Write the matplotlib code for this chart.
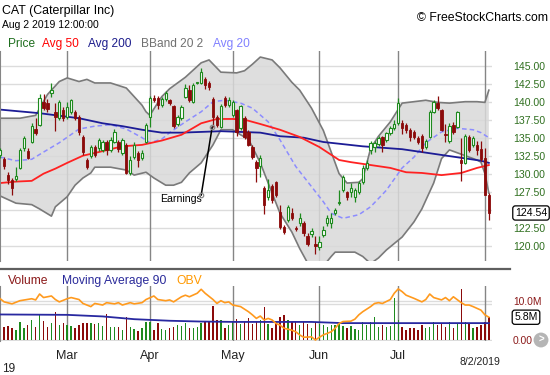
import numpy as np
import matplotlib
matplotlib.use("Agg")
import matplotlib.pyplot as plt
from matplotlib.lines import Line2D
from matplotlib.transforms import blended_transform_factory

plt.rcParams['font.family'] = ['Liberation Sans', 'DejaVu Sans']

# ---- daily candles (trading day index 0 = Feb 5 2019 ... 124 = Aug 2 2019) ----
opens = [132.6, 132.0, 129.8, 129.1, 129.3, 130.8, 133.6, 133.2, 134.4, 136.2,
         136.8, 140.0, 139.8, 141.2, 138.6, 137.8, 138.8, 137.9, 138.6, 138.6,
         137.9, 135.1, 131.9, 132.4, 133.7, 133.6, 133.3, 134.4, 133.3, 134.4,
         134.4, 132.9, 134.0, 130.1, 132.3, 132.9, 132.2, 134.4, 137.9, 140.5,
         140.5, 139.5, 140.4, 140.2, 139.4, 136.9, 137.7, 140.7, 141.6, 140.0,
         142.6, 142.6, 143.1, 142.6, 140.4, 137.9, 136.5, 140.5, 139.5, 138.2,
         138.8, 136.3, 137.7, 135.8, 133.7, 131.6, 131.0, 128.0, 126.7, 128.3,
         128.8, 124.7, 122.6, 123.6, 124.5, 122.5, 123.1, 123.1, 121.4, 121.6,
         120.2, 119.8, 121.5, 123.1, 123.1, 124.5, 125.9, 127.7, 127.4, 127.4,
         126.7, 127.4, 128.8, 130.8, 133.3, 133.7, 134.1, 135.1, 134.7, 135.6,
         136.3, 137.0, 137.0, 136.8, 136.1, 135.8, 135.0, 135.2, 133.7, 135.1,
         138.6, 139.8, 138.8, 135.5, 134.5, 136.8, 136.5, 131.9, 131.5, 135.1,
         134.0, 134.0, 133.4, 132.2, 127.0]
closes = [133.3, 131.0, 129.1, 128.0, 129.7, 133.3, 135.0, 132.2, 136.6, 135.6,
          140.5, 139.1, 139.0, 141.6, 137.9, 140.0, 137.7, 139.3, 140.2, 137.7,
          135.8, 133.0, 130.9, 133.7, 132.6, 134.7, 134.4, 133.3, 134.7, 135.8,
          133.4, 134.7, 130.1, 131.9, 134.0, 131.9, 132.9, 136.8, 140.5, 140.2,
          139.5, 140.4, 141.2, 139.8, 136.6, 137.9, 139.3, 141.9, 140.2, 142.3,
          142.7, 144.1, 142.3, 142.0, 137.9, 136.8, 139.4, 139.5, 140.2, 140.0,
          135.8, 139.4, 135.1, 134.0, 132.3, 130.8, 132.2, 125.6, 127.7, 126.3,
          127.0, 122.6, 121.9, 125.4, 123.8, 122.3, 123.8, 121.7, 120.3, 122.0,
          120.0, 120.5, 122.2, 123.8, 123.8, 124.9, 126.0, 129.5, 126.7, 128.0,
          127.7, 128.7, 130.8, 131.5, 134.2, 134.2, 135.0, 134.0, 135.6, 136.3,
          136.9, 139.8, 136.3, 136.1, 135.1, 135.1, 134.4, 133.6, 134.5, 138.6,
          140.0, 139.1, 136.1, 135.4, 136.6, 135.8, 138.5, 131.5, 135.2, 133.3,
          135.0, 133.3, 132.0, 127.0, 124.54]
highs = [133.6, 132.3, 130.3, 129.4, 130.9, 133.5, 135.3, 133.6, 137.0, 137.8,
         141.0, 141.0, 140.4, 142.6, 139.8, 140.2, 139.2, 140.0, 140.4, 138.9,
         138.2, 135.4, 132.2, 134.0, 134.0, 134.9, 134.7, 134.7, 135.1, 136.2,
         134.7, 135.0, 134.3, 132.5, 134.4, 133.2, 133.3, 137.0, 140.8, 140.9,
         140.8, 140.7, 141.5, 140.4, 139.6, 138.2, 139.6, 142.4, 142.3, 142.6,
         142.8, 144.7, 143.4, 142.9, 140.7, 138.2, 139.7, 140.8, 140.6, 140.2,
         139.0, 139.6, 138.0, 136.0, 134.0, 131.9, 132.6, 128.3, 129.3, 128.6,
         129.0, 125.6, 122.9, 125.7, 125.3, 122.8, 124.6, 123.4, 121.8, 122.4,
         121.4, 121.4, 122.8, 124.2, 124.5, 125.2, 127.8, 129.8, 127.6, 128.7,
         128.0, 129.0, 131.2, 131.9, 134.5, 134.5, 135.3, 135.3, 135.8, 136.6,
         137.4, 140.5, 137.5, 137.0, 136.4, 136.1, 135.3, 135.5, 134.8, 138.9,
         140.2, 140.8, 139.0, 136.9, 137.1, 137.2, 138.7, 135.0, 135.5, 135.4,
         135.3, 134.6, 134.5, 133.6, 127.3]
lows = [132.2, 130.6, 128.6, 127.0, 129.0, 130.6, 133.2, 132.0, 134.2, 135.4,
        136.6, 138.8, 138.6, 140.6, 135.9, 137.5, 137.3, 137.6, 138.3, 137.4,
        135.4, 132.6, 130.6, 132.2, 132.3, 133.2, 133.0, 132.6, 133.0, 134.2,
        133.0, 132.6, 129.9, 129.8, 132.0, 130.9, 131.9, 134.2, 136.5, 139.9,
        139.0, 139.2, 140.1, 139.5, 136.4, 136.6, 137.5, 140.5, 140.0, 139.8,
        142.5, 142.4, 141.8, 141.6, 136.5, 136.5, 136.3, 139.2, 139.2, 137.9,
        135.2, 136.0, 134.8, 133.8, 132.0, 128.8, 129.6, 124.4, 126.4, 125.9,
        126.7, 122.3, 121.6, 123.3, 123.5, 122.0, 122.8, 121.4, 120.0, 121.2,
        118.8, 119.4, 121.2, 122.8, 122.4, 124.2, 125.7, 127.4, 126.4, 126.7,
        126.0, 127.2, 128.6, 130.5, 132.8, 133.0, 133.8, 133.0, 134.4, 135.4,
        136.0, 136.8, 135.5, 135.6, 134.6, 134.8, 134.1, 133.0, 133.4, 134.9,
        138.4, 138.8, 135.9, 134.4, 134.3, 135.5, 136.3, 129.0, 131.3, 133.0,
        133.7, 132.6, 131.8, 127.0, 123.6]

volume_m = [3.4, 3.4, 3.6, 3.0, 2.5, 4.7, 3.0, 3.8, 5.1, 3.4,
            6.4, 4.8, 3.4, 4.4, 7.0, 3.8, 4.4, 3.8, 3.6, 3.0,
            3.8, 4.4, 4.4, 4.4, 4.1, 4.4, 3.6, 6.6, 3.4, 3.4,
            3.2, 2.5, 5.8, 3.4, 2.7, 2.4, 3.0, 4.7, 4.7, 2.5,
            4.4, 2.7, 2.5, 3.0, 3.4, 3.8, 3.6, 4.4, 3.0, 3.0,
            3.4, 4.4, 4.7, 4.9, 8.6, 5.1, 5.1, 3.0, 3.8, 4.7,
            5.3, 4.2, 4.7, 5.5, 4.2, 4.7, 5.1, 8.3, 4.2, 3.0,
            4.7, 5.8, 6.4, 5.1, 4.7, 4.7, 3.8, 4.7, 4.2, 3.0,
            4.7, 4.2, 3.8, 3.4, 3.8, 3.8, 4.4, 3.6, 3.0, 3.6,
            2.7, 2.5, 4.7, 3.8, 4.7, 5.8, 3.4, 3.8, 3.4, 3.6,
            10.6, 5.1, 3.4, 2.5, 3.0, 3.0, 2.5, 3.8, 3.0, 3.4,
            4.7, 3.8, 4.2, 3.4, 4.7, 3.0, 4.2, 13.0, 4.7, 4.2,
            3.0, 3.4, 3.8, 4.7, 5.8]

# ---- indicator lines at sample days ----
avg50_days = [0, 4, 8, 11, 14, 17, 21, 25, 31, 36, 41, 46, 51, 55, 59, 62, 66, 71, 76, 81,
              86, 89, 94, 99, 103, 107, 112, 117, 121, 124]
avg50_vals = [128.7, 128.9, 129.0, 130.0, 130.7, 131.5, 132.5, 133.0, 133.8, 134.0,
              134.6, 135.4, 137.0, 137.6, 137.6, 137.5, 136.9, 136.1, 135.1, 133.7,
              131.9, 131.6, 131.2, 130.8, 130.2, 130.1, 129.8, 130.1, 130.8, 131.2]
avg200_days = [0, 10, 20, 26, 31, 36, 41, 46, 51, 56, 61, 66, 71, 77, 82, 87, 92, 97,
               102, 107, 112, 117, 122, 124]
avg200_vals = [138.9, 138.4, 137.7, 137.0, 136.6, 136.1, 135.7, 135.7, 135.8, 135.9,
               135.8, 135.7, 135.2, 135.0, 134.4, 134.1, 133.8, 133.6, 133.4, 133.0,
               132.6, 132.2, 131.8, 131.5]
avg20_days = [0, 4, 8, 11, 15, 20, 24, 28, 32, 36, 38, 41, 43, 47, 51, 54, 57, 61, 64, 68,
              71, 75, 79, 82, 84, 87, 91, 94, 98, 102, 105, 108, 112, 116, 120, 122, 124]
avg20_vals = [132.3, 131.8, 132.0, 133.0, 134.3, 136.2, 136.6, 136.8, 136.2, 135.0,
              134.3, 134.8, 135.7, 137.2, 138.6, 140.0, 140.2, 139.8, 139.1, 137.2,
              134.7, 131.0, 128.2, 126.1, 124.5, 123.8, 124.3, 125.4, 127.7, 130.8,
              132.3, 134.3, 135.8, 136.3, 136.1, 135.7, 135.0]
bb_up_days = [0, 5, 9, 12, 13, 15, 17, 20, 22, 24, 28, 32, 36, 37, 38, 39, 41, 43, 47, 51,
              53, 56, 60, 62, 64, 66, 69, 71, 74, 76, 79, 82, 84, 86, 88, 91, 92, 94, 96, 99,
              102, 105, 108, 111, 114, 118, 121, 123, 124]
bb_up_vals = [137.7, 137.7, 138.1, 141.0, 141.6, 142.8, 143.3, 142.8, 143.1, 142.6,
              142.6, 141.9, 139.5, 138.6, 138.1, 139.0, 140.7, 141.8, 143.4, 145.4,
              145.8, 144.1, 144.0, 144.3, 145.2, 146.2, 145.8, 144.7, 142.7, 141.6,
              139.1, 136.0, 133.0, 130.0, 128.7, 128.8, 129.3, 133.5, 135.2, 137.2,
              139.8, 140.0, 140.2, 139.9, 139.8, 140.0, 140.0, 139.9, 141.6]
bb_lo_days = [0, 4, 8, 10, 13, 14, 17, 19, 21, 23, 24, 28, 32, 34, 37, 39, 42, 44, 46, 48,
              51, 54, 56, 59, 61, 63, 66, 69, 71, 74, 76, 78, 81, 84, 85, 90, 92, 94, 96, 98,
              102, 105, 107, 110, 112, 114, 116, 119, 121, 122, 123, 124]
bb_lo_vals = [126.9, 125.9, 125.7, 125.1, 124.1, 125.4, 126.8, 128.4, 129.4, 130.1,
              130.9, 130.9, 130.5, 129.8, 130.2, 129.4, 128.4, 128.4, 128.8, 130.1,
              131.5, 134.0, 136.1, 136.1, 135.4, 134.8, 131.5, 127.3, 124.5, 121.9,
              119.6, 117.6, 116.5, 118.5, 119.1, 119.1, 118.5, 117.5, 118.3, 119.4,
              121.2, 123.3, 125.1, 128.7, 132.1, 133.3, 132.9, 132.3, 131.9, 131.6,
              130.0, 127.3]
volma_days = [0, 17, 26, 34, 43, 51, 60, 70, 79, 87, 124]
volma_vals = [6.5, 6.4, 6.0, 5.3, 4.9, 4.7, 4.6, 4.6, 4.6, 4.3, 4.3]
obv_days = [0, 1, 3, 5, 8, 9, 10, 11, 13, 14, 15, 17, 18, 20, 21, 23, 24, 26, 27, 29,
            30, 31, 33, 34, 36, 37, 39, 40, 42, 43, 44, 46, 47, 48, 50, 51, 52, 54, 55, 56,
            57, 58, 59, 61, 63, 64, 65, 66, 67, 68, 69, 70, 71, 72, 74, 75, 76, 77, 79, 80,
            81, 82, 84, 85, 86, 87, 89, 90, 91, 92, 94, 95, 96, 97, 99, 100, 101, 102, 103, 105,
            107, 108, 109, 110, 112, 113, 114, 115, 117, 118, 119, 120, 122, 123, 124]
obv_vals = [10.5, 9.7, 9.2, 10.0, 10.5, 10.2, 11.7, 10.8, 11.2, 10.3, 9.7, 10.5, 10.8, 10.3,
            9.3, 8.5, 9.3, 8.9, 9.5, 9.2, 9.5, 8.9, 9.5, 9.2, 9.5, 10.3, 11.2, 10.3, 10.0,
            10.2, 9.7, 11.0, 11.4, 11.0, 11.9, 12.9, 11.9, 10.3, 9.3, 10.0, 9.5, 9.7, 8.9,
            8.5, 7.2, 6.4, 5.5, 6.1, 5.1, 5.5, 5.1, 4.2, 3.8, 3.0, 2.5, 2.1, 1.3, 0.7, 0.8,
            0.0, 0.7, 1.3, 2.1, 3.0, 4.2, 4.7, 4.8, 5.3, 6.4, 7.2, 8.5, 9.3, 9.5, 9.3, 10.3,
            11.9, 13.0, 12.3, 11.4, 10.6, 9.7, 10.3, 11.7, 10.8, 10.2, 10.8, 10.0, 11.0, 9.5,
            8.9, 8.9, 8.5, 7.6, 6.4, 5.8]

month_names = ["Mar", "Apr", "May", "Jun", "Jul"]
month_days = [17, 38, 59, 81, 101]
last_line_day = 123
earn_day, earn_price = 53.8, 136.5
price_ticks = [120.0, 122.5, 125.0, 127.5, 130.0, 132.5, 135.0, 137.5, 140.0, 142.5, 145.0]

GREEN = "#1e8a1e"
RED = "#8b0a0a"
GRID = "#dcdcdc"
VLINE = "#858585"
W, H = 550, 375


def fx(px):
    return px / W


def fy(py):
    return 1 - py / H


days = np.arange(len(closes))
o = np.array(opens); c = np.array(closes)
hi = np.array(highs); lo = np.array(lows)
up = c >= o
cols = np.where(up, GREEN, RED)

fig = plt.figure(figsize=(5.5, 3.75), dpi=100)

# ---------------- price panel ----------------
ax = fig.add_axes([fx(0), fy(261), fx(492), (261 - 51) / H])
ax.set_xlim(-0.05, 124.8)
ax.set_ylim(117.87, 147.04)
for s in ["top", "right", "bottom"]:
    ax.spines[s].set_visible(False)
ax.spines["left"].set_color(VLINE)
ax.set_xticks([])
ax.yaxis.tick_right()
ax.set_yticks(price_ticks)
# the 125.00 label sits under the last-price box, so leave it blank
ax.set_yticklabels(["" if abs(t - closes[-1]) < 1.5 else f"{t:.2f}" for t in price_ticks])
ax.tick_params(axis="y", length=0, pad=15, labelsize=7.6, labelcolor="#2f6f1f")
ax.grid(axis="y", color=GRID, lw=1)
ax.set_axisbelow(True)

for d in month_days + [last_line_day]:
    ax.axvline(d, color=VLINE, lw=1, zorder=1)

# bollinger band
ax.fill(np.r_[bb_up_days, bb_lo_days[::-1]], np.r_[bb_up_vals, bb_lo_vals[::-1]],
        color="#d9d9d9", alpha=0.85, lw=0, zorder=1.2)
ax.plot(bb_up_days, bb_up_vals, color="#7a7a7a", lw=1.2, zorder=1.5)
ax.plot(bb_lo_days, bb_lo_vals, color="#7a7a7a", lw=1.2, zorder=1.5)

ax.plot(avg20_days, avg20_vals, color="#8c8cff", lw=1.1, dashes=(3, 2), zorder=2)
ax.plot(avg200_days, avg200_vals, color="#1c1c96", lw=1.3, zorder=2)
ax.plot(avg50_days, avg50_vals, color="#ff2222", lw=1.3, zorder=2)

# candles
ax.vlines(days, lo, hi, colors=cols, lw=0.9, zorder=3)
body_lo = np.minimum(o, c)
body_h = np.maximum(np.abs(c - o), 0.12)
ax.bar(days[up], body_h[up], bottom=body_lo[up], width=0.6, facecolor="white",
       edgecolor=GREEN, lw=0.8, zorder=4)
ax.bar(days[~up], body_h[~up], bottom=body_lo[~up], width=0.6, facecolor=RED,
       edgecolor=RED, lw=0.6, zorder=4)

# earnings note
ax.annotate("", xy=(earn_day, earn_price), xytext=(51.0, 127.0),
            arrowprops=dict(arrowstyle="-", color="black", lw=1.1, shrinkA=0, shrinkB=0),
            zorder=5)
ax.plot([51.0, earn_day], [127.0, earn_price], "o", mfc="none", mec="#8a8a8a",
        ms=3.2, mew=0.9, zorder=6)
ax.text(51.3, 126.1, "Earnings", ha="right", va="baseline", fontsize=7.6, zorder=5)

# last price box
ax.annotate(f"{closes[-1]:.2f}", xy=(531 / 492, closes[-1]),
            xycoords=("axes fraction", "data"), ha="center", va="center",
            fontsize=7.6, color="black", annotation_clip=False, zorder=10,
            bbox=dict(boxstyle="round,pad=0.2,rounding_size=0.25", fc="white",
                      ec="black", lw=0.9))

# ---------------- volume panel ----------------
axv = fig.add_axes([fx(0), fy(341), fx(492), 55 / H])
axv.set_xlim(-0.05, 124.8)
axv.set_ylim(-0.25, 13.74)
for s in ["top", "right", "bottom"]:
    axv.spines[s].set_visible(False)
axv.spines["left"].set_color(VLINE)
axv.set_xticks([])
axv.yaxis.tick_right()
axv.set_yticks([0, 10])
axv.set_yticklabels(["0.00", "10.0M"])
axv.tick_params(axis="y", length=0, pad=15, labelsize=7.4, labelcolor="#8b1a1a")
axv.grid(axis="y", color=GRID, lw=1)
axv.axhline(9.25, color=GRID, lw=1, zorder=0)
axv.set_axisbelow(True)
for d in month_days + [last_line_day]:
    axv.axvline(d, color=VLINE, lw=1, zorder=1)

axv.bar(days, volume_m, width=0.35, color=cols, zorder=2)
axv.plot(volma_days, volma_vals, color="#2828a0", lw=1.3, zorder=3)
axv.plot(obv_days, obv_vals, color="#ff9a1e", lw=1.2, zorder=4)

axv.annotate(f"{volume_m[-1]:.1f}M", xy=(526 / 492, volume_m[-1]),
             xycoords=("axes fraction", "data"), ha="center", va="center",
             fontsize=7.6, color="black", annotation_clip=False, zorder=10,
             bbox=dict(boxstyle="round,pad=0.2,rounding_size=0.25", fc="white",
                       ec="black", lw=0.9))

# separator between panels
fig.add_artist(Line2D([0, fx(510)], [fy(269), fy(269)], transform=fig.transFigure,
                      color="#5f5f5f", lw=1.6))

# month labels
tr = blended_transform_factory(axv.transData, fig.transFigure)
for name, d in zip(month_names, month_days):
    fig.text(d, fy(359), name, transform=tr, ha="center", va="baseline",
             fontsize=9, color="#222222")
fig.text(fx(2), fy(372), "19", ha="left", va="baseline", fontsize=8.6, color="#222222")
fig.text(fx(479.5), fy(365), "8/2/2019", ha="center", va="baseline", fontsize=7.6,
         color="#222222")
fig.text(fx(541), fy(340), ">", ha="center", va="center", fontsize=7, color="white",
         fontweight="bold",
         bbox=dict(boxstyle="circle,pad=0.25", fc="#b5b5b5", ec="none"))

# header texts
fig.text(fx(2), fy(14), "CAT (Caterpillar Inc)", ha="left", va="baseline",
         fontsize=8.9, color="black")
fig.text(fx(2), fy(28.3), "Aug 2 2019 12:00:00", ha="left", va="baseline",
         fontsize=7.5, color="black")
fig.text(fx(548), fy(20.7), "\u00a9 FreeStockCharts.com", ha="right", va="baseline",
         fontsize=8.8, color="black")

legend_items = [("Price", 8, "#1e6e1e"), ("Avg 50", 42, "#ff0000"),
                ("Avg 200", 88, "#1c1c8c"), ("BBand 20 2", 141, "#707070"),
                ("Avg 20", 213, "#8080ff")]
for label, xp, colr in legend_items:
    fig.text(fx(xp), fy(46.7), label, ha="left", va="baseline", fontsize=8.6, color=colr)

vol_items = [("Volume", 8, "#8b1a1a"), ("Moving Average 90", 62, "#2a2a9a"),
             ("OBV", 176, "#ff9900")]
for label, xp, colr in vol_items:
    fig.text(fx(xp), fy(284.3), label, ha="left", va="baseline", fontsize=8.7, color=colr)

fig.savefig("out.png", dpi=100, facecolor="white")
